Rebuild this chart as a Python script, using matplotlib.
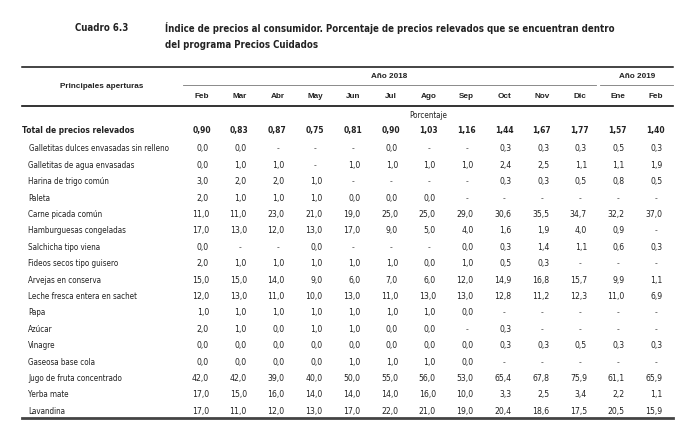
import matplotlib.pyplot as plt
from matplotlib import font_manager

# buscar una fuente condensada (tipo Helvetica Condensed); si no hay, Liberation Sans
cond = [f for f in font_manager.fontManager.ttflist
        if ('Narrow' in f.name or 'Condensed' in f.name or 'condensed' in str(f.stretch))
        and f.style == 'normal']
reg = [f for f in cond if f.weight in (400, 'normal', 'regular')]
bld = [f for f in cond if f.weight in (700, 'bold')]
if reg and bld:
    same = [f for f in bld if f.name == reg[0].name]
    b = same[0] if same else bld[0]
    FONT_R = {'fontproperties': font_manager.FontProperties(fname=reg[0].fname)}
    FONT_B = {'fontproperties': font_manager.FontProperties(fname=b.fname)}
else:
    FONT_R = {'family': 'Liberation Sans'}
    FONT_B = {'family': 'Liberation Sans', 'fontweight': 'bold'}

months = ['Feb', 'Mar', 'Abr', 'May', 'Jun', 'Jul', 'Ago', 'Sep', 'Oct', 'Nov', 'Dic', 'Ene', 'Feb']

total = [0.90, 0.83, 0.87, 0.75, 0.81, 0.90, 1.03, 1.16, 1.44, 1.67, 1.77, 1.57, 1.40]

# None = "-"
galletitas_dulces = [0.0, 0.0, None, None, None, 0.0, None, None, 0.3, 0.3, 0.3, 0.5, 0.3]
galletitas_agua = [0.0, 1.0, 1.0, None, 1.0, 1.0, 1.0, 1.0, 2.4, 2.5, 1.1, 1.1, 1.9]
harina = [3.0, 2.0, 2.0, 1.0, None, None, None, None, 0.3, 0.3, 0.5, 0.8, 0.5]
paleta = [2.0, 1.0, 1.0, 1.0, 0.0, 0.0, 0.0, None, None, None, None, None, None]
carne = [11.0, 11.0, 23.0, 21.0, 19.0, 25.0, 25.0, 29.0, 30.6, 35.5, 34.7, 32.2, 37.0]
hamburguesas = [17.0, 13.0, 12.0, 13.0, 17.0, 9.0, 5.0, 4.0, 1.6, 1.9, 4.0, 0.9, None]
salchicha = [0.0, None, None, 0.0, None, None, None, 0.0, 0.3, 1.4, 1.1, 0.6, 0.3]
fideos = [2.0, 1.0, 1.0, 1.0, 1.0, 1.0, 0.0, 1.0, 0.5, 0.3, None, None, None]
arvejas = [15.0, 15.0, 14.0, 9.0, 6.0, 7.0, 6.0, 12.0, 14.9, 16.8, 15.7, 9.9, 1.1]
leche = [12.0, 13.0, 11.0, 10.0, 13.0, 11.0, 13.0, 13.0, 12.8, 11.2, 12.3, 11.0, 6.9]
papa = [1.0, 1.0, 1.0, 1.0, 1.0, 1.0, 1.0, 0.0, None, None, None, None, None]
azucar = [2.0, 1.0, 0.0, 1.0, 1.0, 0.0, 0.0, None, 0.3, None, None, None, None]
vinagre = [0.0, 0.0, 0.0, 0.0, 0.0, 0.0, 0.0, 0.0, 0.3, 0.3, 0.5, 0.3, 0.3]
gaseosa = [0.0, 0.0, 0.0, 0.0, 1.0, 1.0, 1.0, 0.0, None, None, None, None, None]
jugo = [42.0, 42.0, 39.0, 40.0, 50.0, 55.0, 56.0, 53.0, 65.4, 67.8, 75.9, 61.1, 65.9]
yerba = [17.0, 15.0, 16.0, 14.0, 14.0, 14.0, 16.0, 10.0, 3.3, 2.5, 3.4, 2.2, 1.1]
lavandina = [17.0, 11.0, 12.0, 13.0, 17.0, 22.0, 21.0, 19.0, 20.4, 18.6, 17.5, 20.5, 15.9]

rows = [
    ('Galletitas dulces envasadas sin relleno', galletitas_dulces),
    ('Galletitas de agua envasadas', galletitas_agua),
    ('Harina de trigo común', harina),
    ('Paleta', paleta),
    ('Carne picada común', carne),
    ('Hamburguesas congeladas', hamburguesas),
    ('Salchicha tipo viena', salchicha),
    ('Fideos secos tipo guisero', fideos),
    ('Arvejas en conserva', arvejas),
    ('Leche fresca entera en sachet', leche),
    ('Papa', papa),
    ('Azúcar', azucar),
    ('Vinagre', vinagre),
    ('Gaseosa base cola', gaseosa),
    ('Jugo de fruta concentrado', jugo),
    ('Yerba mate', yerba),
    ('Lavandina', lavandina),
]


def fmt(v, dec=1):
    if v is None:
        return '-'
    return f'{v:.{dec}f}'.replace('.', ',')


fig = plt.figure(figsize=(6.8, 4.27), dpi=100)
ax = fig.add_axes([0, 0, 1, 1])
ax.set_xlim(0, 680)
ax.set_ylim(427, 0)
ax.axis('off')
renderer = fig.canvas.get_renderer()


def fit_size(text, width, font):
    # tamaño de letra para que el texto mida "width" px
    t = ax.text(0, 0, text, fontsize=10, **font)
    w = t.get_window_extent(renderer).width
    t.remove()
    return 10 * width / w


txt = '#222222'
x_left, x_right = 22, 673
col_x = [202 + 37.8 * i for i in range(len(months))]

fs_title = min(fit_size('Índice de precios al consumidor. Porcentaje de precios relevados que se encuentran dentro',
                        443, FONT_B), 10)
fs_body = min(fit_size('Galletitas dulces envasadas sin relleno', 140, FONT_R), 8)
fs_num = fs_body * 1.08
fs_bold = fs_body * 1.05
HEAD = {'family': 'Liberation Sans', 'fontweight': 'bold'}
fs_head = fit_size('Principales aperturas', 83, HEAD)

# titulo
ax.text(75, 28, 'Cuadro 6.3', fontsize=fs_title, color=txt, va='center', **FONT_B)
ax.text(165, 28, 'Índice de precios al consumidor. Porcentaje de precios relevados que se encuentran dentro',
        fontsize=fs_title, color=txt, va='center', **FONT_B)
ax.text(165, 45, 'del programa Precios Cuidados', fontsize=fs_title, color=txt, va='center', **FONT_B)

# lineas del encabezado
ax.plot([x_left, x_right], [68, 68], color='#111111', lw=1.1)
ax.plot([183, 596], [86, 86], color='#777777', lw=0.6)
ax.plot([600, x_right], [86, 86], color='#777777', lw=0.6)
ax.plot([x_left, x_right], [107, 107], color='#111111', lw=1.2)
ax.plot([x_left, x_right], [419, 419], color='#444444', lw=2.0)

ax.text(102, 87, 'Principales aperturas', fontsize=fs_head, color=txt, ha='center', va='center', **HEAD)
ax.text(389, 77, 'Año 2018', fontsize=fs_head, color=txt, ha='center', va='center', **HEAD)
ax.text(637, 77, 'Año 2019', fontsize=fs_head, color=txt, ha='center', va='center', **HEAD)
for x, m in zip(col_x, months):
    ax.text(x, 97, m, fontsize=fs_head, color=txt, ha='center', va='center', **HEAD)
ax.text(428, 115, 'Porcentaje', fontsize=fs_body, color=txt, ha='center', va='center', **FONT_R)

# fila total
y = 131
ax.text(22, y, 'Total de precios relevados', fontsize=fs_bold, color=txt, va='center', **FONT_B)
for x, v in zip(col_x, total):
    ax.text(x + 9, y, fmt(v, 2), fontsize=fs_bold, color=txt, ha='right', va='center', **FONT_B)

# filas de productos
y0, dy = 149, 16.4
for i, (label, vals) in enumerate(rows):
    y = y0 + i * dy
    lx = 29 if i == 0 else 28
    ax.text(lx, y, label, fontsize=fs_body, color=txt, va='center', **FONT_R)
    for x, v in zip(col_x, vals):
        if v is None:
            ax.text(x, y, '-', fontsize=fs_num, color='#555555', ha='center', va='center', **FONT_R)
        else:
            ax.text(x + 7, y, fmt(v), fontsize=fs_num, color=txt, ha='right', va='center', **FONT_R)

fig.savefig('out.png', dpi=100)
